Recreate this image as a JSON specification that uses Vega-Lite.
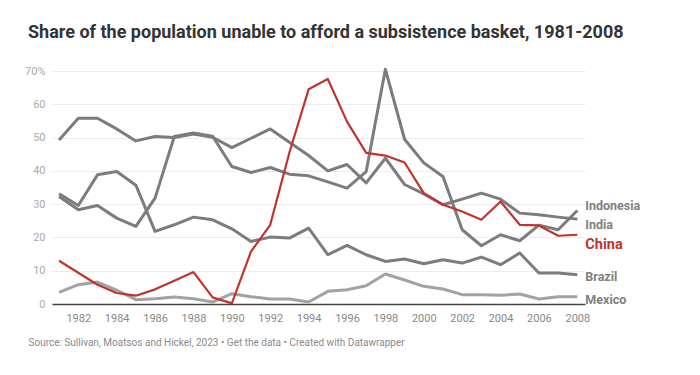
{
  "$schema": "https://vega.github.io/schema/vega-lite/v6.json",
  "width": 533,
  "height": 233,
  "autosize": {"type": "none"},
  "padding": {"left": 52, "top": 71, "right": 115, "bottom": 71},
  "background": "white",
  "config": {"font": "Roboto", "view": {"stroke": null}},
  "title": {
    "text": "Share of the population unable to afford a subsistence basket, 1981-2008",
    "anchor": "start",
    "frame": "group",
    "dx": -24,
    "offset": 23,
    "fontSize": 18,
    "fontWeight": "bold",
    "color": "#333333",
    "font": "Roboto"
  },
  "datasets": {
    "series": [
      {"country": "India", "year": 1981, "value": 49.3},
      {"country": "India", "year": 1982, "value": 55.8},
      {"country": "India", "year": 1983, "value": 55.8},
      {"country": "India", "year": 1984, "value": 52.6},
      {"country": "India", "year": 1985, "value": 49.0},
      {"country": "India", "year": 1986, "value": 50.3},
      {"country": "India", "year": 1987, "value": 50.0},
      {"country": "India", "year": 1988, "value": 51.1},
      {"country": "India", "year": 1989, "value": 50.1},
      {"country": "India", "year": 1990, "value": 47.0},
      {"country": "India", "year": 1991, "value": 49.8},
      {"country": "India", "year": 1992, "value": 52.6},
      {"country": "India", "year": 1993, "value": 48.6},
      {"country": "India", "year": 1994, "value": 44.6},
      {"country": "India", "year": 1995, "value": 40.0},
      {"country": "India", "year": 1996, "value": 41.9},
      {"country": "India", "year": 1997, "value": 36.4},
      {"country": "India", "year": 1998, "value": 43.8},
      {"country": "India", "year": 1999, "value": 35.9},
      {"country": "India", "year": 2000, "value": 33.1},
      {"country": "India", "year": 2001, "value": 29.8},
      {"country": "India", "year": 2002, "value": 31.5},
      {"country": "India", "year": 2003, "value": 33.3},
      {"country": "India", "year": 2004, "value": 31.5},
      {"country": "India", "year": 2005, "value": 27.3},
      {"country": "India", "year": 2006, "value": 26.8},
      {"country": "India", "year": 2007, "value": 26.1},
      {"country": "India", "year": 2008, "value": 25.5},
      {"country": "Indonesia", "year": 1981, "value": 32.3},
      {"country": "Indonesia", "year": 1982, "value": 28.3},
      {"country": "Indonesia", "year": 1983, "value": 29.6},
      {"country": "Indonesia", "year": 1984, "value": 25.8},
      {"country": "Indonesia", "year": 1985, "value": 23.3},
      {"country": "Indonesia", "year": 1986, "value": 31.8},
      {"country": "Indonesia", "year": 1987, "value": 50.3},
      {"country": "Indonesia", "year": 1988, "value": 51.4},
      {"country": "Indonesia", "year": 1989, "value": 50.4},
      {"country": "Indonesia", "year": 1990, "value": 41.3},
      {"country": "Indonesia", "year": 1991, "value": 39.5},
      {"country": "Indonesia", "year": 1992, "value": 41.0},
      {"country": "Indonesia", "year": 1993, "value": 39.0},
      {"country": "Indonesia", "year": 1994, "value": 38.5},
      {"country": "Indonesia", "year": 1995, "value": 36.7},
      {"country": "Indonesia", "year": 1996, "value": 34.8},
      {"country": "Indonesia", "year": 1997, "value": 39.8},
      {"country": "Indonesia", "year": 1998, "value": 70.5},
      {"country": "Indonesia", "year": 1999, "value": 49.5},
      {"country": "Indonesia", "year": 2000, "value": 42.4},
      {"country": "Indonesia", "year": 2001, "value": 38.3},
      {"country": "Indonesia", "year": 2002, "value": 22.3},
      {"country": "Indonesia", "year": 2003, "value": 17.5},
      {"country": "Indonesia", "year": 2004, "value": 20.8},
      {"country": "Indonesia", "year": 2005, "value": 19.0},
      {"country": "Indonesia", "year": 2006, "value": 23.7},
      {"country": "Indonesia", "year": 2007, "value": 22.3},
      {"country": "Indonesia", "year": 2008, "value": 28.1},
      {"country": "Brazil", "year": 1981, "value": 33.1},
      {"country": "Brazil", "year": 1982, "value": 29.6},
      {"country": "Brazil", "year": 1983, "value": 38.8},
      {"country": "Brazil", "year": 1984, "value": 39.8},
      {"country": "Brazil", "year": 1985, "value": 35.7},
      {"country": "Brazil", "year": 1986, "value": 21.8},
      {"country": "Brazil", "year": 1987, "value": 23.8},
      {"country": "Brazil", "year": 1988, "value": 26.1},
      {"country": "Brazil", "year": 1989, "value": 25.3},
      {"country": "Brazil", "year": 1990, "value": 22.6},
      {"country": "Brazil", "year": 1991, "value": 18.8},
      {"country": "Brazil", "year": 1992, "value": 20.1},
      {"country": "Brazil", "year": 1993, "value": 19.8},
      {"country": "Brazil", "year": 1994, "value": 22.8},
      {"country": "Brazil", "year": 1995, "value": 14.8},
      {"country": "Brazil", "year": 1996, "value": 17.6},
      {"country": "Brazil", "year": 1997, "value": 14.8},
      {"country": "Brazil", "year": 1998, "value": 12.8},
      {"country": "Brazil", "year": 1999, "value": 13.5},
      {"country": "Brazil", "year": 2000, "value": 12.1},
      {"country": "Brazil", "year": 2001, "value": 13.3},
      {"country": "Brazil", "year": 2002, "value": 12.3},
      {"country": "Brazil", "year": 2003, "value": 14.1},
      {"country": "Brazil", "year": 2004, "value": 11.8},
      {"country": "Brazil", "year": 2005, "value": 15.3},
      {"country": "Brazil", "year": 2006, "value": 9.3},
      {"country": "Brazil", "year": 2007, "value": 9.3},
      {"country": "Brazil", "year": 2008, "value": 8.8},
      {"country": "Mexico", "year": 1981, "value": 3.5},
      {"country": "Mexico", "year": 1982, "value": 5.8},
      {"country": "Mexico", "year": 1983, "value": 6.6},
      {"country": "Mexico", "year": 1984, "value": 4.2},
      {"country": "Mexico", "year": 1985, "value": 1.3},
      {"country": "Mexico", "year": 1986, "value": 1.6},
      {"country": "Mexico", "year": 1987, "value": 2.1},
      {"country": "Mexico", "year": 1988, "value": 1.6},
      {"country": "Mexico", "year": 1989, "value": 0.6},
      {"country": "Mexico", "year": 1990, "value": 3.1},
      {"country": "Mexico", "year": 1991, "value": 2.2},
      {"country": "Mexico", "year": 1992, "value": 1.5},
      {"country": "Mexico", "year": 1993, "value": 1.5},
      {"country": "Mexico", "year": 1994, "value": 0.6},
      {"country": "Mexico", "year": 1995, "value": 3.8},
      {"country": "Mexico", "year": 1996, "value": 4.3},
      {"country": "Mexico", "year": 1997, "value": 5.5},
      {"country": "Mexico", "year": 1998, "value": 9.0},
      {"country": "Mexico", "year": 1999, "value": 7.2},
      {"country": "Mexico", "year": 2000, "value": 5.3},
      {"country": "Mexico", "year": 2001, "value": 4.5},
      {"country": "Mexico", "year": 2002, "value": 2.8},
      {"country": "Mexico", "year": 2003, "value": 2.8},
      {"country": "Mexico", "year": 2004, "value": 2.6},
      {"country": "Mexico", "year": 2005, "value": 3.0},
      {"country": "Mexico", "year": 2006, "value": 1.5},
      {"country": "Mexico", "year": 2007, "value": 2.2},
      {"country": "Mexico", "year": 2008, "value": 2.2},
      {"country": "China", "year": 1981, "value": 13.0},
      {"country": "China", "year": 1982, "value": 9.4},
      {"country": "China", "year": 1983, "value": 5.8},
      {"country": "China", "year": 1984, "value": 3.3},
      {"country": "China", "year": 1985, "value": 2.5},
      {"country": "China", "year": 1986, "value": 4.4},
      {"country": "China", "year": 1987, "value": 7.0},
      {"country": "China", "year": 1988, "value": 9.6},
      {"country": "China", "year": 1989, "value": 2.0},
      {"country": "China", "year": 1990, "value": 0.2},
      {"country": "China", "year": 1991, "value": 15.8},
      {"country": "China", "year": 1992, "value": 23.8},
      {"country": "China", "year": 1993, "value": 45.5},
      {"country": "China", "year": 1994, "value": 64.5},
      {"country": "China", "year": 1995, "value": 67.6},
      {"country": "China", "year": 1996, "value": 54.8},
      {"country": "China", "year": 1997, "value": 45.4},
      {"country": "China", "year": 1998, "value": 44.6},
      {"country": "China", "year": 1999, "value": 42.5},
      {"country": "China", "year": 2000, "value": 33.3},
      {"country": "China", "year": 2001, "value": 29.8},
      {"country": "China", "year": 2002, "value": 27.8},
      {"country": "China", "year": 2003, "value": 25.3},
      {"country": "China", "year": 2004, "value": 30.8},
      {"country": "China", "year": 2005, "value": 23.8},
      {"country": "China", "year": 2006, "value": 23.6},
      {"country": "China", "year": 2007, "value": 20.5},
      {"country": "China", "year": 2008, "value": 20.8}
    ],
    "labels": [
      {"country": "Indonesia", "year": 2008, "value": 29.5},
      {"country": "India", "year": 2008, "value": 23.8},
      {"country": "China", "year": 2008, "value": 17.6},
      {"country": "Brazil", "year": 2008, "value": 8.0},
      {"country": "Mexico", "year": 2008, "value": 1.3}
    ]
  },
  "encoding": {
    "x": {
      "field": "year",
      "type": "quantitative",
      "scale": {"domain": [1980.63, 2008.4], "nice": false, "zero": false},
      "axis": {
        "values": [1982, 1984, 1986, 1988, 1990, 1992, 1994, 1996, 1998, 2000, 2002, 2004, 2006, 2008],
        "format": "d",
        "grid": false,
        "ticks": false,
        "domainColor": "#444444",
        "domainWidth": 1.5,
        "labelColor": "#888888",
        "labelFontSize": 11,
        "labelPadding": 8,
        "labelFont": "Roboto",
        "title": "Source: Sullivan, Moatsos and Hickel, 2023 • Get the data • Created with Datawrapper",
        "titleAnchor": "start",
        "titleAlign": "left",
        "titleX": -24,
        "titleY": 38,
        "titleBaseline": "middle",
        "titleFontSize": 10,
        "titleFontWeight": "normal",
        "titleColor": "#8a8a8a",
        "titleFont": "Roboto"
      }
    },
    "y": {
      "field": "value",
      "type": "quantitative",
      "scale": {"domain": [0, 70], "nice": false},
      "axis": {
        "values": [0, 10, 20, 30, 40, 50, 60, 70],
        "labelExpr": "datum.value == 70 ? '70%' : datum.label",
        "domain": false,
        "ticks": false,
        "gridColor": "#ececec",
        "gridWidth": 1,
        "labelColor": "#aaaaaa",
        "labelFontSize": 11,
        "labelPadding": 7,
        "labelFont": "Roboto",
        "title": null
      }
    }
  },
  "layer": [
    {
      "data": {"name": "series"},
      "transform": [{"filter": "datum.country != 'China'"}],
      "mark": {"type": "line", "strokeWidth": 3, "strokeJoin": "round"},
      "encoding": {
        "detail": {"field": "country", "type": "nominal"},
        "color": {
          "field": "country",
          "type": "nominal",
          "scale": {"domain": ["India", "Indonesia", "Brazil", "Mexico", "China"], "range": ["#7c7c7c", "#7c7c7c", "#7c7c7c", "#a2a2a2", "#c1342c"]},
          "legend": null
        }
      }
    },
    {
      "data": {"name": "series"},
      "transform": [{"filter": "datum.country == 'China'"}],
      "mark": {"type": "line", "strokeWidth": 2.2, "color": "#c1342c", "strokeJoin": "round"},
      "encoding": {}
    },
    {
      "data": {"name": "labels"},
      "transform": [{"filter": "datum.country != 'China'"}],
      "mark": {"type": "text", "align": "left", "baseline": "middle", "dx": 8, "fontSize": 12.5, "fontWeight": "bold", "color": "#7f7f7f", "font": "Roboto"},
      "encoding": {"text": {"field": "country", "type": "nominal"}}
    },
    {
      "data": {"name": "labels"},
      "transform": [{"filter": "datum.country == 'China'"}],
      "mark": {"type": "text", "align": "left", "baseline": "middle", "dx": 8, "fontSize": 14.5, "fontWeight": "bold", "color": "#c1342c", "font": "Roboto"},
      "encoding": {"text": {"field": "country", "type": "nominal"}}
    }
  ]
}
